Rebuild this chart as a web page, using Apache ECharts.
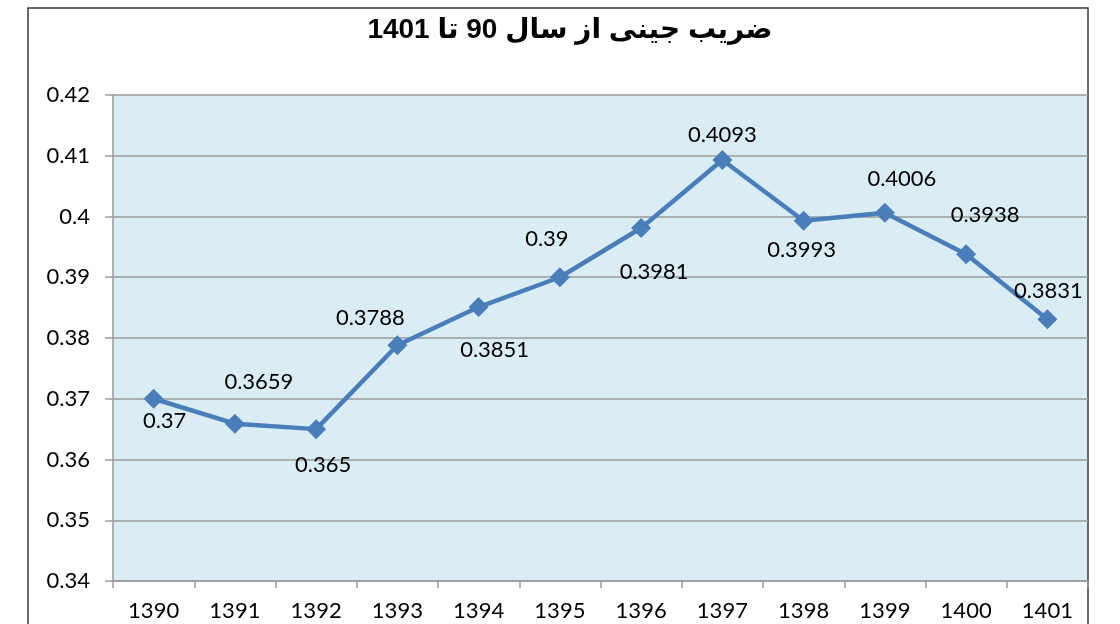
<!DOCTYPE html>
<html>
<head>
<meta charset="utf-8">
<script src="https://cdn.jsdelivr.net/npm/echarts@6/dist/echarts.min.js"></script>
<style>
  html, body { margin: 0; padding: 0; background: #fff; }
  #chart { width: 1120px; height: 624px; }
</style>
</head>
<body>
<div id="chart"></div>
<script>
// years (categories) and gini values
var years = ['1390', '1391', '1392', '1393', '1394', '1395', '1396', '1397', '1398', '1399', '1400', '1401'];
var gini = [0.37, 0.3659, 0.365, 0.3788, 0.3851, 0.39, 0.3981, 0.4093, 0.3993, 0.4006, 0.3938, 0.3831];
var titleText = 'ضریب جینی از سال 90 تا 1401';

// where each value label sits relative to its marker (style only)
var labelShift = [[11, 22], [24, -42], [7, 36], [-27, -27], [16, 43], [-13, -38],
                  [13, 44], [0, -25], [-2, 29], [17, -34], [19, -39], [1, -28]];

var chart = echarts.init(document.getElementById('chart'));
var lblFont = 'Lato, "Open Sans", sans-serif';

chart.setOption({
    animation: false,
    title: {
        text: titleText,
        left: 565,
        textAlign: 'center',
        top: 11,
        textStyle: {
            fontFamily: '"Liberation Sans", "DejaVu Sans", sans-serif',
            fontWeight: 'bold',
            fontSize: 28,
            color: '#000'
        }
    },
    graphic: [{
        type: 'rect',
        shape: { x: 28, y: 8, width: 1060, height: 700 },
        style: { fill: null, stroke: '#3a3a3a', lineWidth: 1.5 },
        z: 0
    }],
    grid: {
        left: 113, right: 32, top: 95, bottom: 43,
        show: true,
        backgroundColor: '#DBEDF4',
        borderWidth: 0
    },
    xAxis: {
        type: 'category',
        data: years,
        boundaryGap: true,
        axisLine: { lineStyle: { color: '#9a9a9a', width: 1.5 } },
        axisTick: { show: true, length: 7, lineStyle: { color: '#9a9a9a', width: 1.5 } },
        axisLabel: { color: '#000', fontFamily: lblFont, fontSize: 22, margin: 19 }
    },
    yAxis: {
        type: 'value',
        min: 0.34,
        max: 0.42,
        interval: 0.01,
        axisLine: { show: true, lineStyle: { color: '#9a9a9a', width: 1.5 } },
        axisTick: { show: true, length: 8, lineStyle: { color: '#9a9a9a', width: 1.5 } },
        splitLine: { lineStyle: { color: '#9a9a9a', width: 1.5 } },
        axisLabel: {
            color: '#000', fontFamily: lblFont, fontSize: 22, margin: 23,
            formatter: function (v) { return String(+v.toFixed(2)); }
        }
    },
    series: [{
        type: 'line',
        data: gini.map(function (v, i) {
            return {
                value: v,
                label: { offset: labelShift[i] }
            };
        }),
        symbol: 'diamond',
        symbolSize: 20,
        lineStyle: { color: '#4A7EBB', width: 4.5 },
        itemStyle: { color: '#4A7EBB' },
        label: {
            show: true,
            position: 'inside',
            color: '#000',
            fontFamily: lblFont,
            fontSize: 22,
            formatter: function (p) { return String(p.value); }
        }
    }]
});
</script>
</body>
</html>
